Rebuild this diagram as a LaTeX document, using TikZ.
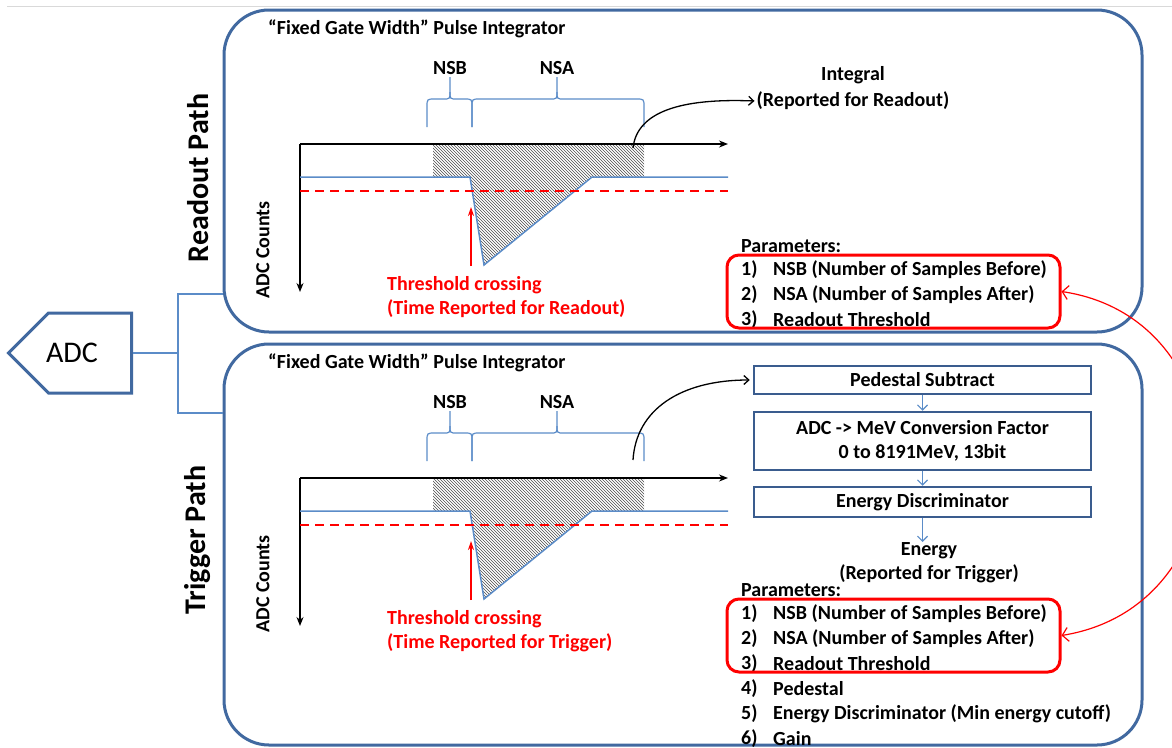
\documentclass[tikz,border=0pt]{standalone}
\usepackage{fontspec}
\setmainfont{Carlito}
\usetikzlibrary{arrows.meta,patterns,shapes.symbols}

\definecolor{panelblue}{RGB}{65,105,160}
\definecolor{boxblue}{RGB}{58,92,142}
\definecolor{lineblue}{RGB}{91,140,200}

\tikzset{
  txt/.style={font=\fontsize{20}{24}\selectfont\bfseries, inner sep=0pt},
  pathlabel/.style={font=\fontsize{30}{36}\selectfont\bfseries, inner sep=0pt, rotate=90},
  panel/.style={draw=panelblue, line width=3pt, rounded corners=45pt, minimum width=918pt},
  stepbox/.style={txt, draw=boxblue, line width=2.5pt, minimum width=337pt, align=center},
  selbox/.style={draw=red, line width=3pt, rounded corners=12pt, minimum width=333pt, minimum height=73pt},
  feed/.style={lineblue, line width=1.5pt},
  signalline/.style={lineblue, line width=1.5pt},
  bracket/.style={lineblue, line width=1.2pt},
  gate/.style={fill=gray!35, pattern=north west lines, pattern color=black!70},
  axis/.style={black, line width=1.3pt, -{Stealth[length=9pt,width=7pt]}},
  thresh/.style={red, line width=1.5pt, dash pattern=on 9pt off 6pt},
  redtip/.style={red, line width=1.5pt, -{Stealth[length=9pt,width=6pt]}},
  gatearrow/.style={black, line width=1.3pt, -{Straight Barb[length=5pt,width=9pt]}},
  flowarrow/.style={lineblue, line width=1.2pt, -{Straight Barb[length=5pt,width=10pt]}},
  linkarrow/.style={red, line width=1.2pt, {Straight Barb[length=6pt,width=14pt]}-{Straight Barb[length=6pt,width=14pt]}}
}

\begin{document}
\begin{tikzpicture}[x=1pt,y=-1pt]
\useasboundingbox (0,0) rectangle (1172,747);
\clip (0,0) rectangle (1172,747);
\draw[gray!30, line width=1pt] (7,6) -- (1172,6);

\node[panel, minimum height=322pt] (rpanel) at (683,171) {};
\node[panel, minimum height=401pt] (tpanel) at (683,544.5) {};
\node[pathlabel] (rpath) at (198,178) {Readout Path};
\node[pathlabel] (tpath) at (198,540) {Trigger Path};

\node[signal, signal to=west, signal pointer angle=90, draw=panelblue, line width=3pt, fill=white,
  minimum width=123pt, minimum height=80pt, inner sep=0pt, anchor=east,
  font=\fontsize{30}{36}\selectfont] (adc) at (133,353) {\kern-36pt ADC};
\draw[feed] (adc.east) -- ++(45,0) coordinate (fork);
\draw[feed] (fork) |- (rpanel.west |- 0,294);
\draw[feed] (fork) |- (tpanel.west |- 0,413);

\foreach \p/\yo/\w in {r/0/Readout,t/334/Trigger}{
\begin{scope}[shift={(0,\yo)}]
  \node[txt, anchor=west] (\p-title) at (268,29) {“Fixed Gate Width” Pulse Integrator};
  \node[txt, rotate=90] (\p-counts) at (263,250) {ADC Counts};
  \path[gate] (433,144) -- (644,144) -- (644,177) -- (592,177) -- (484,265) -- (470,177) -- (433,177) -- cycle;
  \coordinate (\p-o) at (300,144);
  \draw[axis] (\p-o) -- (728,144);
  \draw[axis] (\p-o) -- (300,292);
  \draw[signalline] (300,177) -- (470,177) -- (484,265) -- (592,177) -- (728,177);
  \draw[thresh] (300,191) -- (728,191);
  \foreach \a/\m/\b/\l in {427/450/472/NSB,472/557/644/NSA}{
    \node[txt] (\p-\l) at (\m,68) {\l};
    \draw[bracket] (\a,127) -- (\a,107) .. controls (\a,99) .. ({\a+8},99) -- ({\m-7},99) .. controls (\m,99) .. (\m,92) -- (\m,77);
    \draw[bracket] (\m,92) .. controls (\m,99) .. ({\m+7},99) -- ({\b-8},99) .. controls (\b,99) .. (\b,107) -- (\b,127);
  }
  \node[txt, text=red, align=left, anchor=north west] (\p-thr) at (387,276) {Threshold crossing\\(Time Reported for \w)};
  \coordinate (\p-cross) at (471,207);
  \draw[redtip] (\p-thr.north -| \p-cross) ++(0,-10) -- (\p-cross);
\end{scope}
}

\coordinate (r-gate) at (633,148);
\node[txt] (r-integ) at (853,75) {Integral};
\node[txt] (r-rep) at (853,101) {(Reported for Readout)};
\draw[gatearrow] (r-gate) .. controls (637,112) and (680,98) .. ([xshift=-2pt]r-rep.west);

\node[stepbox, minimum height=28pt] (ped) at (922.5,380) {Pedestal Subtract};
\node[stepbox, minimum height=58pt] (conv) at (922.5,441) {ADC -> MeV Conversion Factor\\0 to 8191MeV, 13bit};
\node[stepbox, minimum height=30pt] (disc) at (922.5,502) {Energy Discriminator};
\node[txt, align=center, anchor=north] (energy) at (929,542) {Energy\\(Reported for Trigger)};
\coordinate (t-gate) at (633,460);
\draw[gatearrow] (t-gate) .. controls (636,410) and (680,380) .. ([xshift=-3pt]ped.west);
\draw[flowarrow] (ped.south) -- (conv.north);
\draw[flowarrow] (conv.south) -- (disc.north);
\draw[flowarrow] (disc.south) -- (disc.south |- energy.north);

\node[txt, anchor=west] (r-par) at (741,246) {Parameters:};
\foreach \t [count=\i] in {NSB (Number of Samples Before),NSA (Number of Samples After),Readout Threshold}{
  \node[txt, anchor=west] (r-n\i) at (741,{270+25*(\i-1)}) {\i)};
  \node[txt, anchor=west] (r-i\i) at (773,{270+25*(\i-1)}) {\t};
}
\node[selbox] (r-sel) at (893.5,291.5) {};

\node[txt, anchor=west] (t-par) at (741,590) {Parameters:};
\foreach \t [count=\i] in {NSB (Number of Samples Before),NSA (Number of Samples After),Readout Threshold,Pedestal,Energy Discriminator (Min energy cutoff),Gain}{
  \node[txt, anchor=west] (t-n\i) at (741,{614+25*(\i-1)}) {\i)};
  \node[txt, anchor=west] (t-i\i) at (773,{614+25*(\i-1)}) {\t};
}
\node[selbox] (t-sel) at (893.5,635.5) {};

\draw[linkarrow] (r-sel.east) .. controls (1250,320) and (1250,605) .. (t-sel.east);
\end{tikzpicture}
\end{document}
